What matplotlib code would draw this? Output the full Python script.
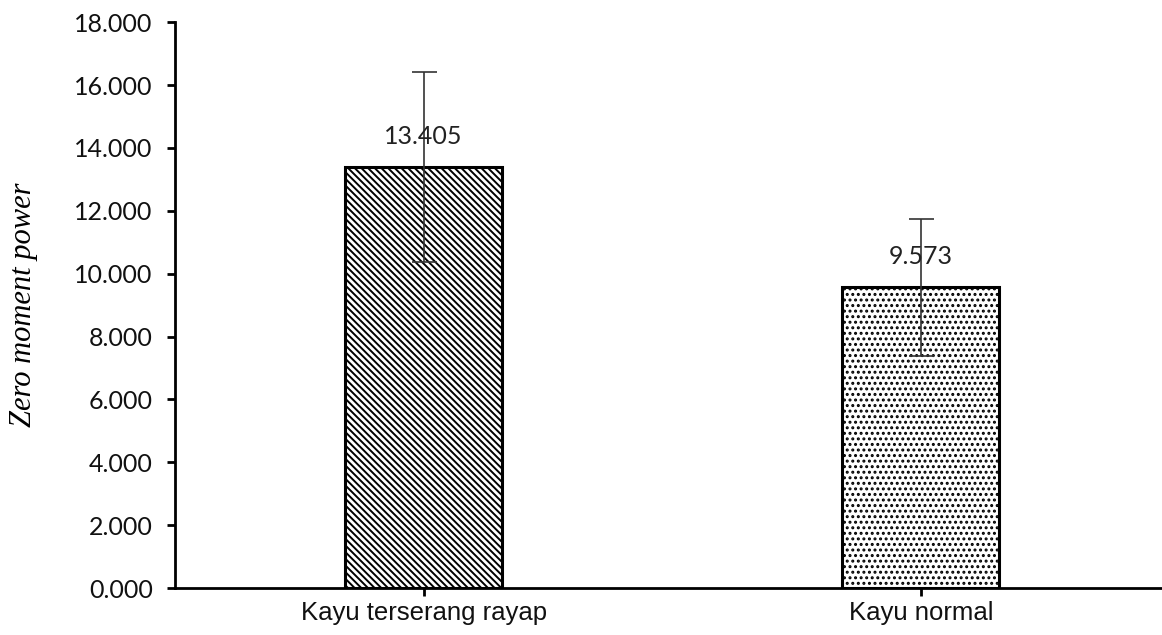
import matplotlib.pyplot as plt
from matplotlib import font_manager
from matplotlib.ticker import FuncFormatter

categories = ["Kayu terserang rayap", "Kayu normal"]
means = [13.405, 9.573]
errors = [3.02, 2.18]
hatches = ["\\\\\\\\\\", "..."]
y_ticks = [0, 2, 4, 6, 8, 10, 12, 14, 16, 18]

available = {f.name for f in font_manager.fontManager.ttflist}
narrow = "Liberation Sans Narrow" if "Liberation Sans Narrow" in available else "Liberation Sans"

plt.rcParams["hatch.linewidth"] = 1.4

fig = plt.figure(figsize=(11.62, 6.35), dpi=100)
ax = fig.add_axes([0.1506, 0.074, 0.8494, 0.891])

x = list(range(len(categories)))
for i in x:
    ax.bar(i, means[i], width=0.316, color="white", edgecolor="black",
           linewidth=2.2, hatch=hatches[i], zorder=2)
    ax.errorbar(i, means[i], yerr=errors[i], color="#333333", elinewidth=1.2,
                capsize=9, capthick=1.2, zorder=3)
    ax.text(i, means[i] + 0.6, f"{means[i]:.3f}", ha="center", va="bottom",
            fontsize=18, family="Lato", color="#222222", zorder=4)

ax.set_xlim(-0.5, 1.485)
ax.set_ylim(0, 18)
ax.set_yticks(y_ticks)
ax.yaxis.set_major_formatter(FuncFormatter(lambda v, p: f"{v:.3f}"))
ax.set_xticks(x)
ax.set_xticklabels(categories, family=narrow, fontsize=18.5, color="#111111")
for lab in ax.get_yticklabels():
    lab.set_family("Lato")
    lab.set_fontsize(18)
    lab.set_color("#111111")

for side in ["top", "right"]:
    ax.spines[side].set_visible(False)
for side in ["left", "bottom"]:
    ax.spines[side].set_linewidth(2)
ax.tick_params(axis="y", length=6, width=2, pad=10)
ax.tick_params(axis="x", length=6, width=2, pad=3)

ax.set_ylabel("Zero moment power", family="Liberation Serif", style="italic",
              fontsize=22, labelpad=26)

fig.savefig("out.png", dpi=100)
